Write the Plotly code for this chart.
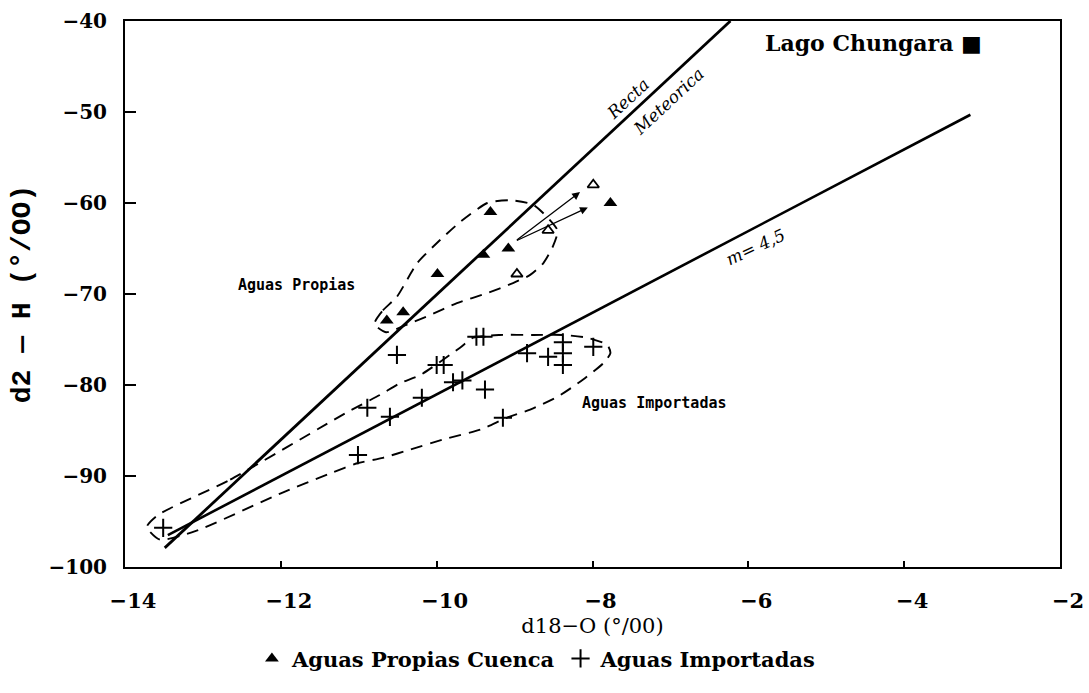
import plotly.graph_objects as go

# ---- data ----
propias_x = [-9.31, -7.77, -9.08, -9.40, -9.99, -10.43, -10.64]
propias_y = [-61.0, -60.0, -65.0, -65.7, -67.8, -72.0, -72.9]

propias_open_x = [-7.99, -8.57, -8.97]
propias_open_y = [-58.0, -63.0, -67.8]

import_x = [-9.49, -9.40, -10.51, -10.00, -9.91, -9.79, -9.67, -9.38, -10.19, -10.89,
            -10.60, -9.15, -11.01, -8.84, -8.57, -8.38, -8.38, -8.38, -7.99, -13.51]
import_y = [-74.7, -74.7, -76.7, -77.8, -77.8, -79.7, -79.5, -80.5, -81.4, -82.5,
            -83.5, -83.6, -87.7, -76.5, -76.9, -75.3, -76.5, -77.8, -75.8, -95.7]

meteoric_x = [-13.49, -6.23]
meteoric_y = [-97.9, -40.0]

local_x = [-13.45, -3.15]
local_y = [-96.5, -50.3]

env_propias_x = [-10.80, -10.69, -10.51, -10.25, -9.96, -9.70, -9.35, -9.06, -8.76,
                 -8.45, -8.51, -8.63, -8.80, -9.02, -9.35, -9.74, -10.08, -10.34,
                 -10.65, -10.80]
env_propias_y = [-73.3, -71.8, -70.3, -66.6, -64.1, -62.1, -60.0, -59.7, -60.2,
                 -63.0, -64.8, -66.6, -67.9, -68.8, -69.9, -71.0, -72.3, -73.2,
                 -74.2, -73.3]

env_import_x = [-13.58, -12.65, -11.15, -10.73, -10.47, -10.21, -9.70, -9.53, -9.19, -8.76,
                -8.38, -8.07, -7.81, -7.77, -7.86, -8.12, -8.45, -8.80, -9.10, -9.44,
                -9.92, -10.34, -10.69, -11.02, -11.33, -12.00, -13.08, -13.55, -13.72, -13.58]
env_import_y = [-94.3, -90.4, -83.0, -81.1, -79.8, -78.9, -75.9, -74.8, -74.5, -74.5,
                -74.5, -74.8, -75.6, -76.5, -77.6, -79.4, -81.3, -82.7, -83.6, -84.9,
                -86.0, -87.1, -88.0, -88.6, -89.6, -91.9, -96.0, -97.0, -95.6, -94.3]

arrow_start = (-8.99, -64.2)
arrow_ends_x = [-8.16, -8.06]
arrow_ends_y = [-58.8, -60.5]

x_ticks = [-14, -12, -10, -8, -6, -4, -2]
y_ticks = [-100, -90, -80, -70, -60, -50, -40]

SERIF = "DejaVu Serif"
MONO = "DejaVu Sans Mono"

fig = go.Figure()

# envelopes (dashed)
for ex, ey in [(env_propias_x, env_propias_y), (env_import_x, env_import_y)]:
    fig.add_trace(go.Scatter(x=ex, y=ey, mode="lines", showlegend=False,
                             line=dict(color="black", width=1.9, dash="12px,8px",
                                       shape="spline", smoothing=0.6),
                             hoverinfo="skip"))

# regression lines
fig.add_trace(go.Scatter(x=meteoric_x, y=meteoric_y, mode="lines", showlegend=False,
                         line=dict(color="black", width=2.8)))
fig.add_trace(go.Scatter(x=local_x, y=local_y, mode="lines", showlegend=False,
                         line=dict(color="black", width=2.6)))

# points
fig.add_trace(go.Scatter(x=propias_x, y=propias_y, mode="markers",
                         name="Aguas Propias Cuenca",
                         marker=dict(symbol="triangle-up", size=12, color="black")))
fig.add_trace(go.Scatter(x=propias_open_x, y=propias_open_y, mode="markers", showlegend=False,
                         marker=dict(symbol="triangle-up-open", size=10, color="black",
                                     line=dict(width=1.8))))
fig.add_trace(go.Scatter(x=import_x, y=import_y, mode="markers",
                         name="Aguas Importadas",
                         marker=dict(symbol="cross-thin", size=13, color="black",
                                     line=dict(width=2, color="black"))))

annotations = []
for exx, eyy in zip(arrow_ends_x, arrow_ends_y):
    annotations.append(dict(x=exx, y=eyy, ax=arrow_start[0], ay=arrow_start[1],
                            xref="x", yref="y", axref="x", ayref="y", text="",
                            showarrow=True, arrowhead=2, arrowsize=1.2, arrowwidth=1.3,
                            arrowcolor="black"))

annotations += [
    dict(x=-5.81, y=-42.4, xref="x", yref="y", text="Lago Chungara ■", showarrow=False,
         xanchor="left", yanchor="middle",
         font=dict(family=SERIF, size=22, color="black", weight="bold")),
    dict(x=-11.02, y=-69.0, xref="x", yref="y", text="Aguas Propias", showarrow=False,
         xanchor="right", yanchor="middle",
         font=dict(family=MONO, size=15, color="black", weight="bold")),
    dict(x=-8.16, y=-82.0, xref="x", yref="y", text="Aguas Importadas", showarrow=False,
         xanchor="left", yanchor="middle",
         font=dict(family=MONO, size=15, color="black", weight="bold")),
    dict(x=-5.91, y=-64.8, xref="x", yref="y", text="m= 4,5", showarrow=False,
         textangle=-25, font=dict(family=SERIF, size=17, color="black", style="italic")),
    dict(x=-7.55, y=-48.6, xref="x", yref="y", text="Recta", showarrow=False,
         textangle=-43, font=dict(family=SERIF, size=17, color="black", style="italic")),
    dict(x=-7.02, y=-48.8, xref="x", yref="y", text="Meteorica", showarrow=False,
         textangle=-43, font=dict(family=SERIF, size=17, color="black", style="italic")),
]

fig.update_layout(
    width=1089, height=693,
    margin=dict(l=125, r=29, t=21, b=126),
    paper_bgcolor="white", plot_bgcolor="white",
    font=dict(family=SERIF, color="black"),
    annotations=annotations,
    legend=dict(orientation="h", x=0.44, xanchor="center", y=-0.168, yanchor="middle",
                font=dict(family=SERIF, size=21, color="black", weight="bold"),
                itemwidth=30, borderwidth=0),
    xaxis=dict(range=[-14, -2], tickvals=x_ticks, showgrid=False, zeroline=False,
               showline=True, mirror=True, linecolor="black", linewidth=2,
               ticks="inside", ticklen=6, tickcolor="black", tickwidth=1.5,
               ticklabelshift=8, ticklabelstandoff=14, automargin=False,
               tickfont=dict(family=SERIF, size=21, color="black", weight="bold"),
               title=dict(text="d18−O (°/00)", standoff=6,
                          font=dict(family=SERIF, size=21, color="black"))),
    yaxis=dict(range=[-100, -40], tickvals=y_ticks, showgrid=False, zeroline=False,
               showline=True, mirror=True, linecolor="black", linewidth=2,
               ticks="inside", ticklen=11, tickcolor="black", tickwidth=1.5,
               ticklabelstandoff=12, automargin=False,
               tickfont=dict(family=SERIF, size=20, color="black", weight="bold"),
               title=dict(text="d2 — H (°/OO)", standoff=10,
                          font=dict(family="Liberation Mono", size=28, color="black",
                                    weight="bold"))),
)

fig.write_html("out.html")
